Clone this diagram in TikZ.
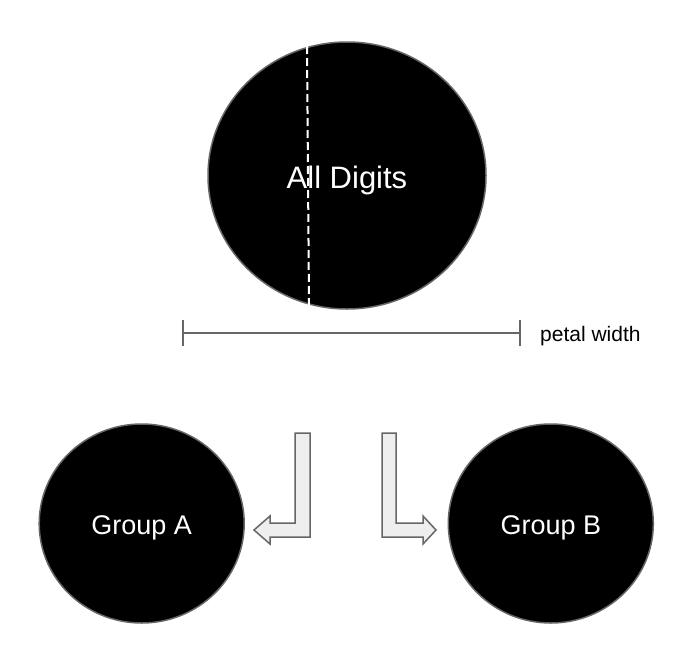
\documentclass[tikz,border=0pt]{standalone}
\usepackage{fontspec}
\setmainfont{Liberation Sans}
\usetikzlibrary{shapes.geometric}
\definecolor{edgegray}{HTML}{666666}
\definecolor{arrowfill}{HTML}{EEEEEE}
\tikzset{
  blob/.style={ellipse, fill=black, draw=edgegray, line width=1.5pt, inner sep=0pt, text=white},
  bigfont/.style={font=\fontsize{31}{31}\selectfont},
  midfont/.style={font=\fontsize{27}{27}\selectfont},
  blockarrow/.style={fill=arrowfill, draw=edgegray, line width=1.5pt, line join=miter},
  measure/.style={draw=edgegray, line width=2pt},
  split/.style={draw=white, line width=2pt, dash pattern=on 8pt off 4pt}
}
\begin{document}
\begin{tikzpicture}[x=1pt, y=-1pt]
\useasboundingbox (0,0) rectangle (696,656);
% top set
\node[blob, bigfont, minimum width=278pt, minimum height=267pt, text height=25pt, text depth=0pt] (all) at (347,175.5) {All Digits};
\coordinate (cuttop) at (307,46);
\coordinate (cutbot) at (309,306);
\draw[split] (cuttop) -- (cutbot);
% measure bar
\coordinate (barL) at (183,333);
\coordinate (barR) at (520,333);
\draw[measure] (barL) -- (barR);
\draw[measure] ([yshift=-13pt]barL) -- ([yshift=13pt]barL);
\draw[measure] ([yshift=-13pt]barR) -- ([yshift=13pt]barR);
\node[anchor=base west, inner sep=0pt, font=\fontsize{21}{21}\selectfont] (pw) at (540,341) {petal width};
% groups
\node[blob, midfont, minimum width=205pt, minimum height=199pt, text height=21pt, text depth=0pt] (ga) at (141.7,523.5) {Group A};
\node[blob, midfont, minimum width=205pt, minimum height=199pt, text height=21pt, text depth=0pt] (gb) at (550.8,523.5) {Group B};
% bent block arrows
\draw[blockarrow] (295,433) -- (310,433) -- (310,537) -- (270,537) -- (270,544) -- (254,530) -- (270,516) -- (270,523) -- (295,523) -- cycle;
\draw[blockarrow] (382,433) -- (396,433) -- (396,523) -- (423,523) -- (423,516) -- (436,530) -- (423,544) -- (423,537) -- (382,537) -- cycle;
\end{tikzpicture}
\end{document}
